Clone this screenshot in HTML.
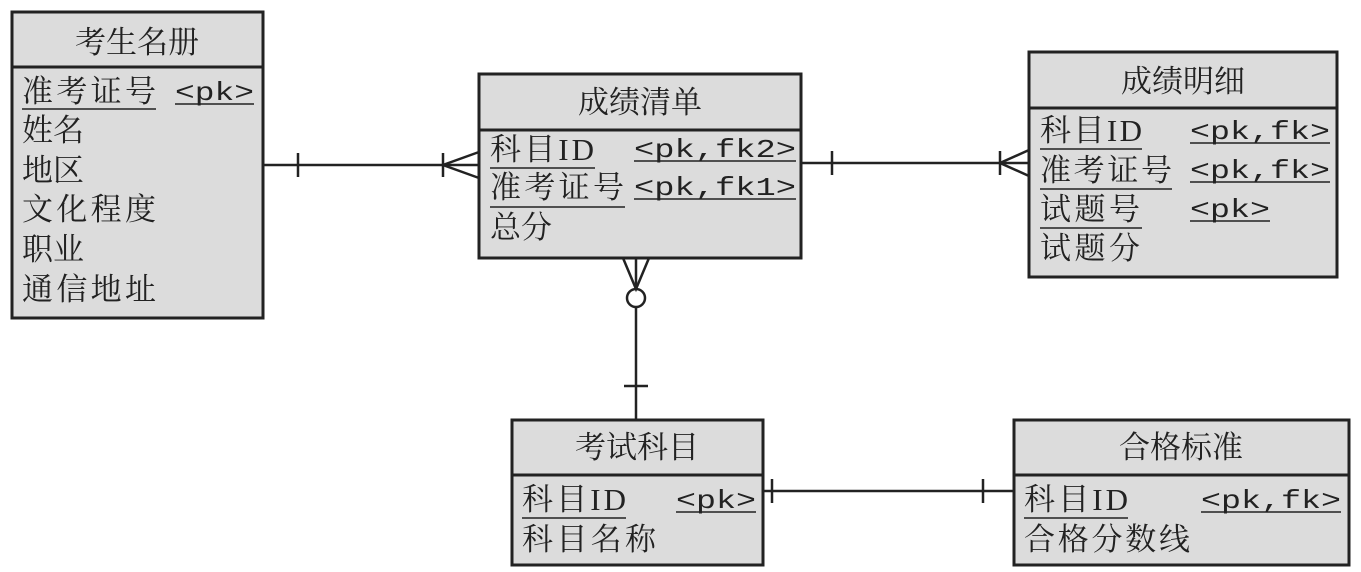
<!DOCTYPE html>
<html><head><meta charset="utf-8"><style>
html,body{margin:0;padding:0;background:#fff}
svg{display:block}
.t{font-family:"Liberation Serif","Noto Serif CJK SC","Noto Sans CJK SC",serif;font-size:31px;fill:#222}
.m{font-family:"Liberation Mono",monospace;font-size:26px;fill:#222}
</style></head><body>
<svg width="1361" height="572" viewBox="0 0 1361 572" xmlns="http://www.w3.org/2000/svg">
<g fill="#dcdcdc" stroke="#222" stroke-width="3">
<rect x="12" y="12" width="251" height="306"/><line x1="12" y1="67" x2="263" y2="67"/>
<rect x="479" y="74" width="322" height="184"/><line x1="479" y1="130" x2="801" y2="130"/>
<rect x="1029" y="52" width="308" height="225"/><line x1="1029" y1="108" x2="1337" y2="108"/>
<rect x="512" y="420" width="251" height="145"/><line x1="512" y1="475" x2="763" y2="475"/>
<rect x="1014" y="420" width="335" height="145"/><line x1="1014" y1="475" x2="1349" y2="475"/>
</g>
<g stroke="#222" stroke-width="2.5" fill="none">
<line x1="263" y1="165" x2="479" y2="165"/><line x1="298" y1="153" x2="298" y2="177"/>
<line x1="443" y1="153" x2="443" y2="177"/><path d="M479 152 L443 165 L479 178"/>
<line x1="801" y1="163" x2="1029" y2="163"/><line x1="832" y1="151" x2="832" y2="175"/>
<line x1="1000" y1="151" x2="1000" y2="175"/><path d="M1029 150 L1000 163 L1029 176"/>
<line x1="636" y1="258" x2="636" y2="289"/><path d="M623 258 L636 289 L649 258"/>
<circle cx="636" cy="298" r="9"/><line x1="636" y1="307" x2="636" y2="420"/>
<line x1="624" y1="386" x2="648" y2="386"/>
<line x1="763" y1="491" x2="1014" y2="491"/><line x1="772" y1="479" x2="772" y2="503"/>
<line x1="983" y1="479" x2="983" y2="503"/>
</g>
<g class="t">
<text x="137" y="53" text-anchor="middle">考生名册</text>
<text x="22" y="102" textLength="134">准考证号</text><text x="22" y="141">姓名</text><text x="22" y="181">地区</text>
<text x="22" y="220" textLength="134">文化程度</text><text x="22" y="260">职业</text><text x="22" y="300" textLength="134">通信地址</text>
<text x="640" y="113" text-anchor="middle">成绩清单</text>
<text x="490" y="160" textLength="104">科目ID</text><text x="490" y="198" textLength="134">准考证号</text><text x="490" y="238">总分</text>
<text x="1183" y="92" text-anchor="middle">成绩明细</text>
<text x="1040" y="141" textLength="102">科目ID</text><text x="1040" y="181" textLength="132">准考证号</text><text x="1040" y="220" textLength="100">试题号</text><text x="1040" y="259" textLength="100">试题分</text>
<text x="637" y="458" text-anchor="middle">考试科目</text>
<text x="522" y="510" textLength="104">科目ID</text><text x="522" y="550" textLength="134">科目名称</text>
<text x="1181" y="458" text-anchor="middle">合格标准</text>
<text x="1024" y="510" textLength="104">科目ID</text><text x="1024" y="550" textLength="166">合格分数线</text>
</g>
<g class="m">
<text x="175" y="100" textLength="79" lengthAdjust="spacingAndGlyphs">&lt;pk&gt;</text>
<text x="634" y="157" textLength="162" lengthAdjust="spacingAndGlyphs">&lt;pk,fk2&gt;</text><text x="634" y="195" textLength="162" lengthAdjust="spacingAndGlyphs">&lt;pk,fk1&gt;</text>
<text x="1190" y="139" textLength="140" lengthAdjust="spacingAndGlyphs">&lt;pk,fk&gt;</text><text x="1190" y="178" textLength="140" lengthAdjust="spacingAndGlyphs">&lt;pk,fk&gt;</text><text x="1190" y="217" textLength="80" lengthAdjust="spacingAndGlyphs">&lt;pk&gt;</text>
<text x="676" y="508" textLength="80" lengthAdjust="spacingAndGlyphs">&lt;pk&gt;</text>
<text x="1201" y="508" textLength="140" lengthAdjust="spacingAndGlyphs">&lt;pk,fk&gt;</text>
</g>
<g stroke="#222" stroke-width="1.5">
<line x1="22" y1="109" x2="156" y2="109"/><line x1="175" y1="104" x2="254" y2="104"/>
<line x1="490" y1="168" x2="595" y2="168"/><line x1="490" y1="207" x2="625" y2="207"/>
<line x1="634" y1="161" x2="796" y2="161"/><line x1="634" y1="199" x2="796" y2="199"/>
<line x1="1040" y1="149" x2="1142" y2="149"/><line x1="1040" y1="189" x2="1172" y2="189"/><line x1="1040" y1="228" x2="1142" y2="228"/>
<line x1="1190" y1="143" x2="1330" y2="143"/><line x1="1190" y1="182" x2="1330" y2="182"/><line x1="1190" y1="221" x2="1270" y2="221"/>
<line x1="522" y1="518" x2="626" y2="518"/><line x1="676" y1="512" x2="756" y2="512"/>
<line x1="1024" y1="518" x2="1128" y2="518"/><line x1="1201" y1="512" x2="1341" y2="512"/>
</g>
</svg>
</body></html>
